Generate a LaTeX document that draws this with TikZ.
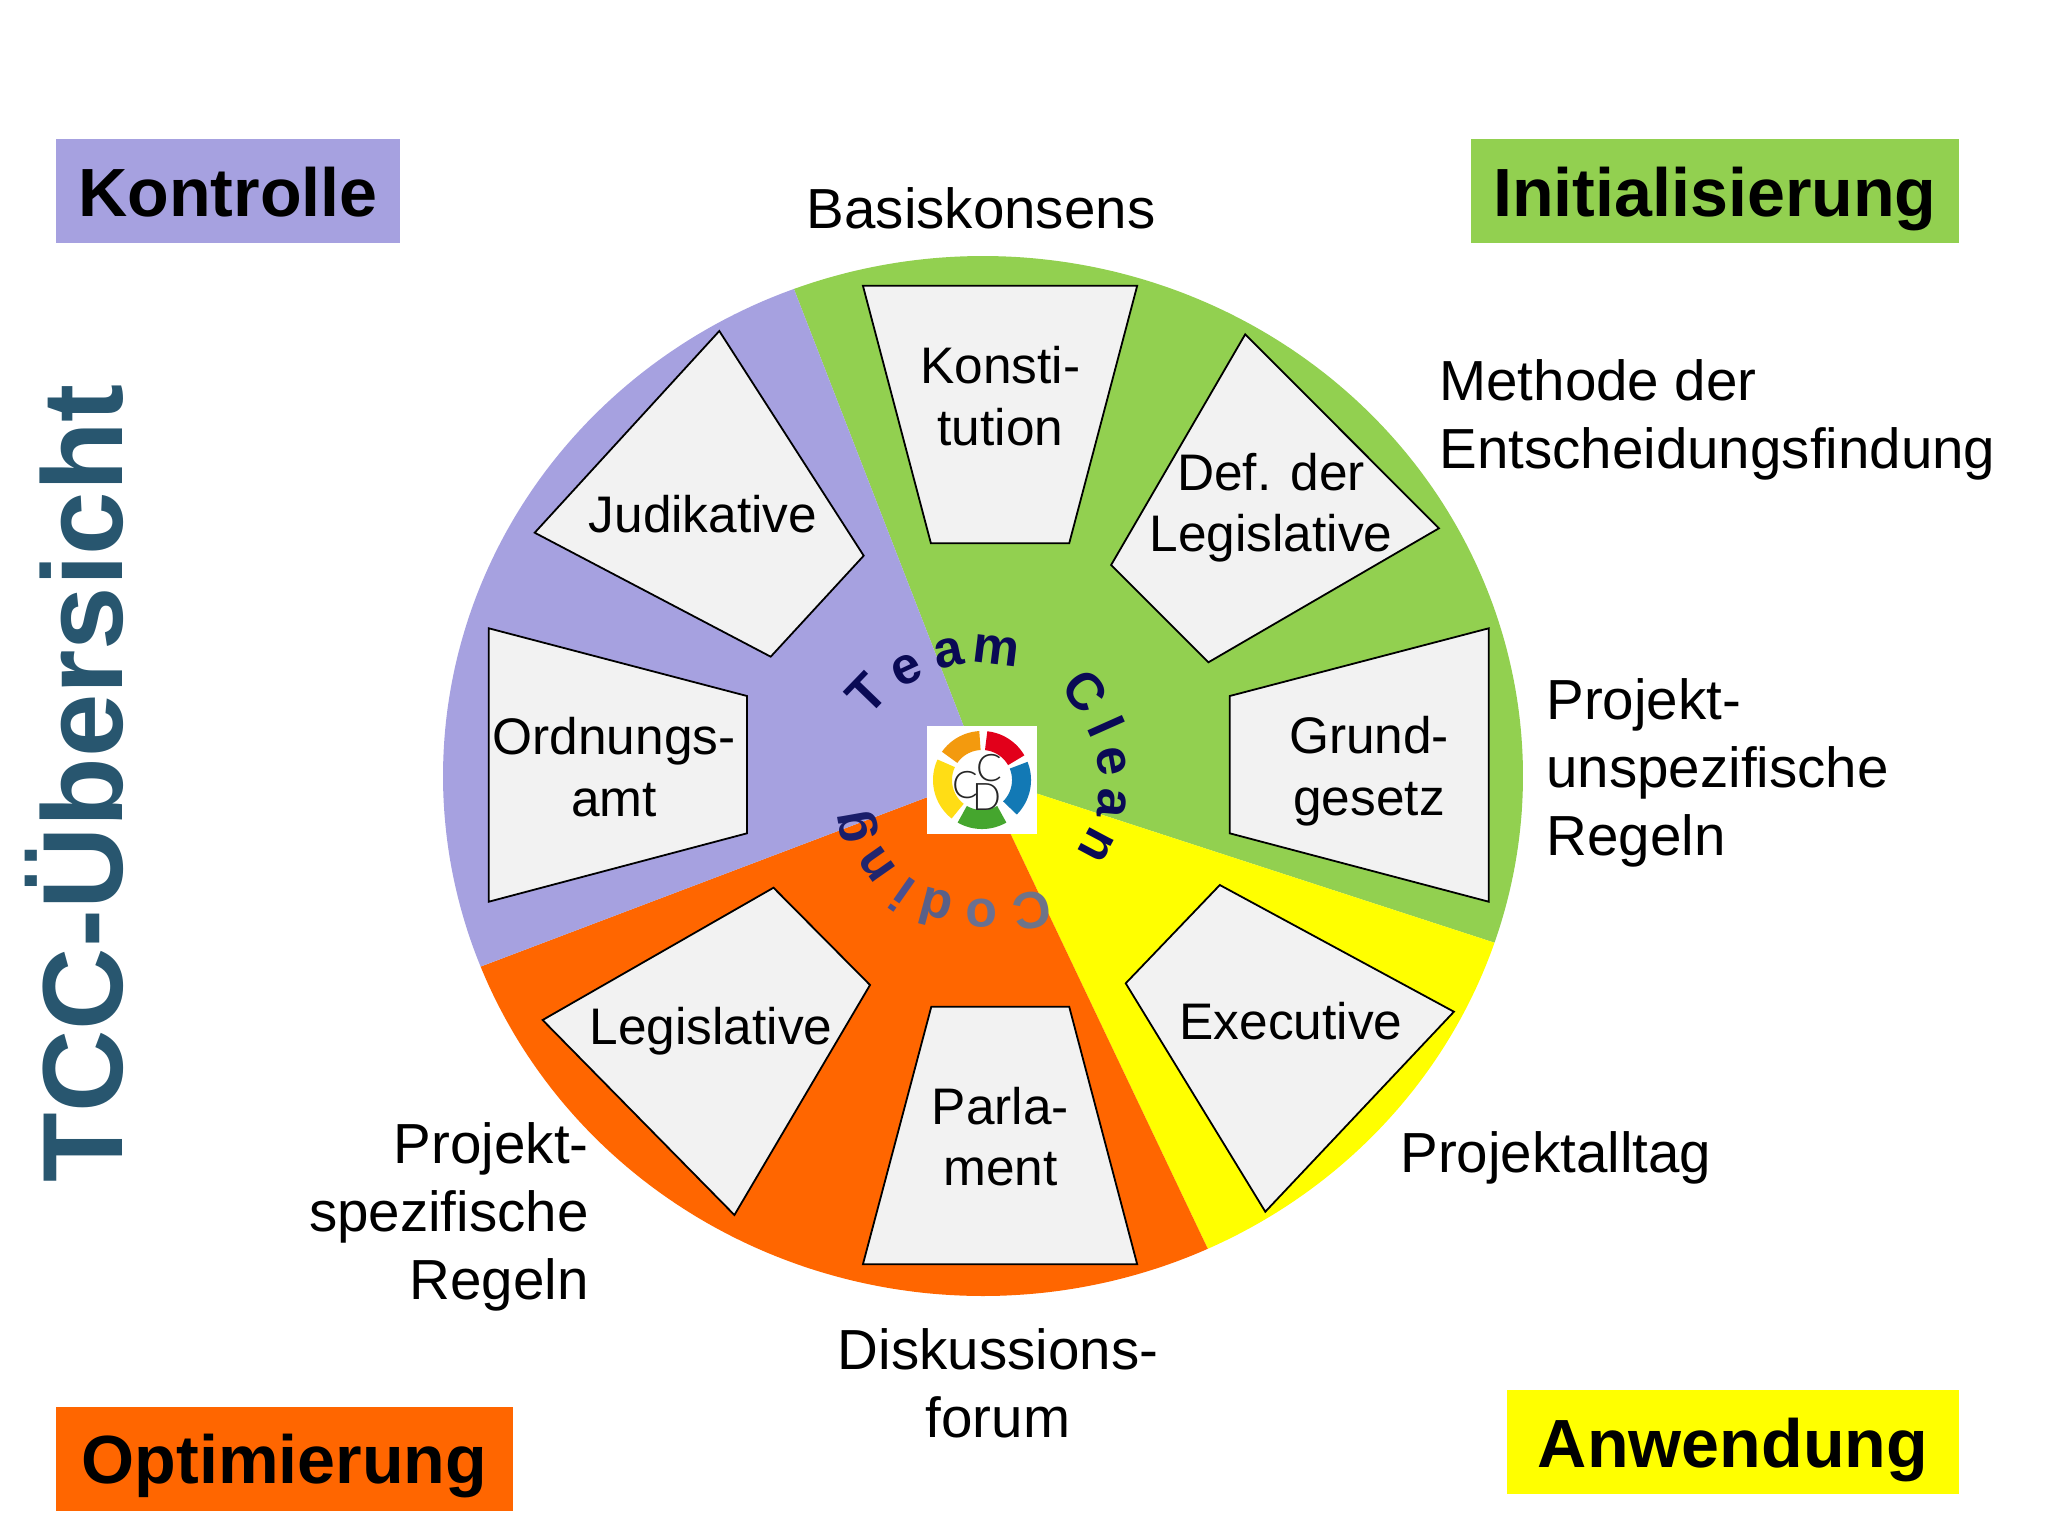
\documentclass[tikz,border=0pt]{standalone}
\usepackage{fontspec}
\setmainfont{Liberation Sans}
\newfontfamily\logofont[UprightFont=* Light]{Lato}
\definecolor{kontrollecol}{HTML}{A6A1E0}
\definecolor{initcol}{HTML}{92D050}
\definecolor{optcol}{HTML}{FF6600}
\definecolor{anwcol}{HTML}{FFFF00}
\definecolor{cellcol}{HTML}{F2F2F2}
\definecolor{titlecol}{HTML}{28566F}
\definecolor{navycol}{HTML}{0A0A55}
\tikzset{
	headbox/.style={inner sep=0pt, text height=38.5pt, text depth=13.5pt, font=\fontsize{34.1}{40}\selectfont\bfseries},
	celltext/.style={align=center, inner sep=0pt, font=\fontsize{25.7}{30.7}\selectfont},
	outertext/.style={inner sep=0pt, font=\fontsize{28.25}{34}\selectfont},
	cell/.style={draw=black, fill=cellcol, line width=.9pt, line join=miter},
	letter/.style={inner sep=0pt, font=\fontsize{26}{26}\selectfont\bfseries}
}
\begin{document}
\begin{tikzpicture}[x=.5pt, y=-.5pt]
	\def\cx{983} \def\cy{776} \def\rx{540} \def\ry{520}
	\useasboundingbox (0,0) rectangle (2048,1536);
	% wheel
	\foreach \col/\from/\to in {initcol/-110.5/18.7, anwcol/18.7/65.4, optcol/65.4/158.5, kontrollecol/158.5/249.5}
		\fill[\col] (\cx,\cy) -- plot[domain=\from:\to, samples=80, smooth, variable=\t] ({\cx+\rx*cos(\t)},{\cy+\ry*sin(\t)}) -- cycle;
	% cells
	\draw[cell] (862.9,285.7)--(1137.2,285.7)--(1069.2,543.3)--(930.9,543.3)--cycle;
	\draw[cell] (1245.2,334.3)--(1438.9,528.3)--(1208.4,662.3)--(1111.1,565)--cycle;
	\draw[cell] (1488.7,628.3)--(1488.7,901.7)--(1229.7,833.3)--(1229.7,696)--cycle;
	\draw[cell] (1219.8,885)--(1453.9,1011.7)--(1265.3,1211.7)--(1125.7,983.3)--cycle;
	\draw[cell] (931.3,1006.7)--(1069.2,1006.7)--(1137.2,1264.3)--(862.9,1264.3)--cycle;
	\draw[cell] (773.5,887.7)--(870,985)--(734.4,1215)--(542.6,1020)--cycle;
	\draw[cell] (488.8,628.3)--(747,696)--(747,833.3)--(488.8,901.7)--cycle;
	\draw[cell] (719.3,331)--(863.7,555.7)--(770.7,656.7)--(534.7,532.7)--cycle;
	\node[celltext] (konstitution) at (1000.5,396) {Konsti-\\tution};
	\node[celltext] (defleg) at (1271,508) {Def. der\\Legislative};
	\node[celltext] (grundgesetz) at (1369,771) {Grund-\\gesetz};
	\node[celltext] (executive) at (1291,1021) {Executive};
	\node[celltext] (parlament) at (1000.5,1136.5) {Parla-\\ment};
	\node[celltext] (legislative) at (711,1031) {Legislative};
	\node[celltext] (ordnungsamt) at (614,767) {Ordnungs-\\amt};
	\node[celltext] (judikative) at (703,514) {Judikative};
	% outer labels
	\node[outertext] (basis) at (981,208) {Basiskonsens};
	\node[outertext, align=left, anchor=west] (methode) at (1439,420) {Methode der\\Entscheidungsfindung};
	\node[outertext, align=left, anchor=west] (unspez) at (1546,773) {Projekt-\\unspezifische\\Regeln};
	\node[outertext, anchor=west] (alltag) at (1400,1158) {Projektalltag};
	\node[outertext, align=center] (forum) at (998,1383) {Diskussions-\\forum};
	\node[outertext, align=right, anchor=east] (spez) at (589,1217) {Projekt-\\spezifische\\Regeln};
	% corner boxes
	\node[headbox, fill=kontrollecol, minimum width=172pt] (kontrolle) at (228,191) {Kontrolle};
	\node[headbox, fill=initcol, minimum width=244.2pt] (init) at (1714.8,191) {Initialisierung};
	\node[headbox, fill=anwcol, minimum width=226pt] (anwendung) at (1733,1442) {Anwendung};
	\node[headbox, fill=optcol, minimum width=228.5pt] (optimierung) at (284.5,1458.5) {Optimierung};
	\node[rotate=90, anchor=base, inner sep=0pt, text=titlecol, font=\fontsize{57}{60}\selectfont\bfseries] (title) at (122.7,783) {TCC-Übersicht};
	% logo
	\node[fill=white, minimum width=54.8pt, minimum height=54pt, inner sep=0pt] (logo) at (981.8,779.7) {};
	\foreach \col/\from/\to in {E2001A/-84/-30, 1279B5/-22/45, 45A62E/60/120, FFDD15/128/205, F39A0E/215/267} {
		\definecolor{ringcol}{HTML}{\col}
		\draw[ringcol, line width=9.5pt] plot[domain=\from:\to, samples=30, smooth, variable=\t] ({982+39.5*cos(\t)},{780+39.5*sin(\t)});
	}
	\foreach \ch/\px/\py [count=\i] in {C/989.3/768.3, C/965.7/785, D/987.3/796.7}
		\node[inner sep=0pt, text=black!85, font=\logofont\fontsize{19}{19}\selectfont] (logo\i) at (\px,\py) {\ch};
	% letters round the logo
	\foreach \ch/\px/\py/\rot [count=\i] in {T/866.7/693.3/46, e/906.7/670/25, a/948.3/653.3/12, m/995.7/650/-7}
		\node[letter, text=navycol, rotate=\rot] (team\i) at (\px,\py) {\ch};
	\foreach \ch/\px/\py/\rot [count=\i] in {C/1085/691.7/-52, l/1106.7/726/-66, e/1111.7/761.7/-80, a/1111.7/803.3/-95, n/1096.7/845/-118}
		\node[letter, text=navycol, rotate=\rot] (clean\i) at (\px,\py) {\ch};
	\foreach \ch/\px/\py/\rot/\col [count=\i] in {C/1031.7/910/190/6E7488, o/981.7/913.3/180/6A7090, d/935/908.3/165/5A6088, i/901.7/895/145/4A5090, n/877.3/865/125/22266E, g/858.3/826.7/100/1A1E6A} {
		\definecolor{lettercol}{HTML}{\col}
		\node[letter, text=lettercol, rotate=\rot] (coding\i) at (\px,\py) {\ch};
	}
\end{tikzpicture}
\end{document}
